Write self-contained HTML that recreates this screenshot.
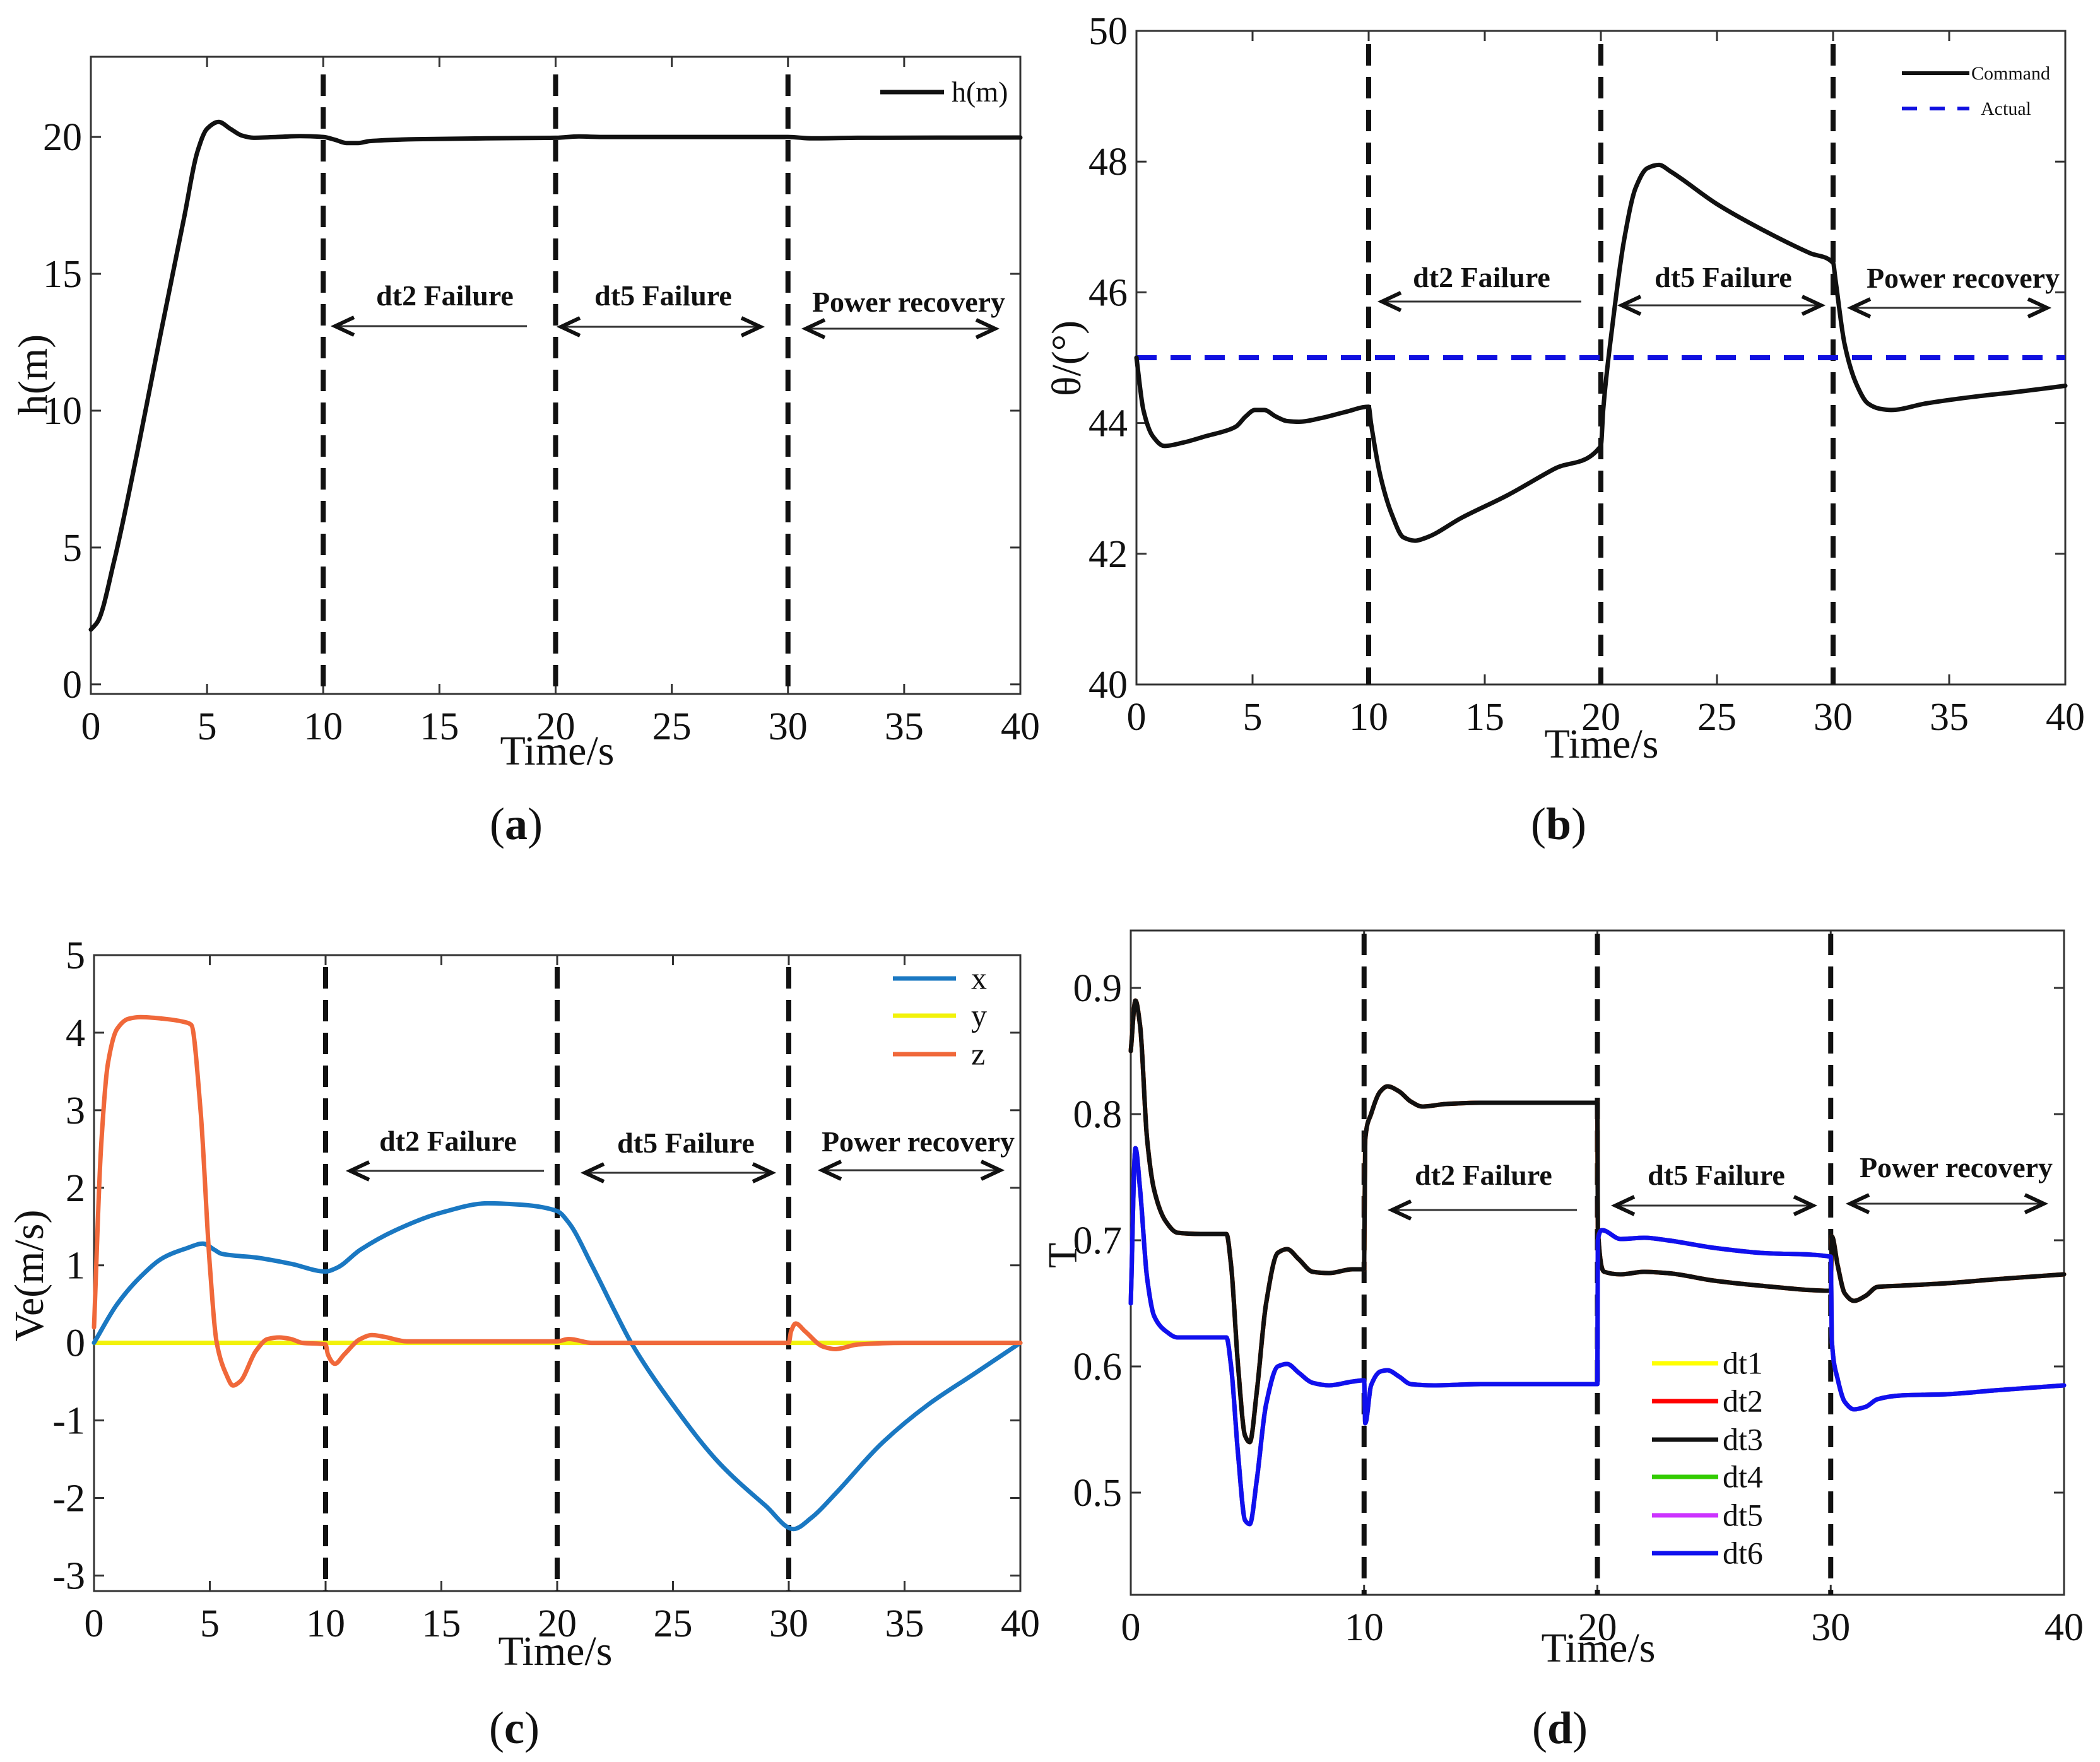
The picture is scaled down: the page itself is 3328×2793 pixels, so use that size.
<!DOCTYPE html>
<html><head><meta charset="utf-8"><style>
html,body{margin:0;padding:0;background:#fff}
svg{display:block}
text{font-family:"Liberation Serif",serif}
</style></head><body>
<svg id="root" width="3328" height="2793" viewBox="0 0 3328 2793" xmlns="http://www.w3.org/2000/svg"></svg>
<script>
// ---- Panel (a) data ----
const hTime = [0,0.3,1,2,3,4,4.6,5,5.5,6,6.5,7,8,9,10,10.5,11,11.5,12,14,17,20,21,22,30,31,33,40];
const hValues = [2,2.3,4.5,8.5,12.8,17,19.5,20.3,20.55,20.3,20.05,19.97,20.0,20.03,20.0,19.9,19.78,19.78,19.85,19.92,19.95,19.97,20.02,20.0,20.0,19.95,19.97,19.98];
const aYTicks = [0,5,10,15,20];
const aXTicks = [0,5,10,15,20,25,30,35,40];
// ---- Panel (b) data ----
const thetaTime = [0,0.3,0.7,1.2,2,3,4,4.3,4.7,5.1,5.5,6,6.5,7,8,9,10,10.1,10.5,11,11.5,12,12.5,14,16,18,20,20.1,20.5,21,21.5,22,22.5,23,25,27,29,30,30.1,30.5,31,31.5,32,32.5,34,36,38,40];
const thetaCommand = [45,44.2,43.8,43.65,43.7,43.8,43.9,43.95,44.1,44.2,44.2,44.1,44.03,44.02,44.08,44.17,44.25,44.0,43.2,42.6,42.25,42.2,42.25,42.55,42.9,43.3,43.65,44.2,45.5,46.8,47.6,47.9,47.95,47.85,47.35,46.95,46.6,46.45,46.2,45.2,44.6,44.3,44.22,44.2,44.3,44.4,44.48,44.57];
const thetaActual = [45,45];
const thetaActualTime = [0,40];
const bYTicks = [40,42,44,46,48,50];
const bXTicks = [0,5,10,15,20,25,30,35,40];
// ---- Panel (c) data ----
const vxTime = [0,1,2,3,4,4.7,5.2,5.5,7,8.5,10,10.5,11.5,13,15,17,18.5,20,20.5,21.5,22.5,23.2,25,27,29,30.2,31,32,34,36,38,40];
const vxValues = [0,0.5,0.85,1.1,1.22,1.28,1.2,1.15,1.1,1.02,0.92,0.97,1.2,1.45,1.68,1.8,1.78,1.7,1.55,1.0,0.4,0,-0.8,-1.55,-2.1,-2.4,-2.25,-1.95,-1.3,-0.8,-0.4,0];
const vyTime = [0,40];
const vyValues = [0,0];
const vzTime = [0,0.3,0.6,1,1.5,2,3,4,4.2,4.6,5,5.3,5.7,6,6.3,7,7.5,8,8.5,9,10,10.1,10.4,10.8,11.5,12,12.5,13.5,15,20,20.5,21.5,23,30,30.1,30.3,30.7,31.5,32,33,35,40];
const vzValues = [0.2,2.5,3.6,4.05,4.18,4.2,4.18,4.13,4.1,3,1,0,-0.4,-0.55,-0.5,-0.1,0.05,0.07,0.05,0,-0.02,-0.15,-0.27,-0.15,0.05,0.1,0.08,0.02,0.02,0.02,0.05,0,0,0,0.15,0.25,0.15,-0.05,-0.08,-0.02,0,0];
const cYTicks = [-3,-2,-1,0,1,2,3,4,5];
const cXTicks = [0,5,10,15,20,25,30,35,40];
// ---- Panel (d) data ----
const tTime3 = [0,0.2,0.4,0.7,1,1.5,2,3,4.1,4.3,4.6,4.9,5.1,5.4,5.8,6.3,6.7,7.2,7.8,8.5,9.5,10,10.05,10.3,10.7,11,11.5,12,12.5,13.5,15,20,20.02,20.3,21,22,23,25,27,30,30.05,30.3,30.6,31,31.5,32,33,35,37,40];
const tDt3 = [0.85,0.89,0.87,0.78,0.74,0.715,0.706,0.705,0.705,0.68,0.6,0.545,0.54,0.58,0.65,0.69,0.693,0.685,0.675,0.674,0.677,0.677,0.78,0.8,0.818,0.822,0.818,0.81,0.806,0.808,0.809,0.809,0.71,0.675,0.673,0.675,0.674,0.668,0.664,0.66,0.703,0.68,0.658,0.652,0.656,0.663,0.664,0.666,0.669,0.673];
const tTime6 = [0,0.2,0.4,0.7,1,1.5,2,4.1,4.3,4.6,4.9,5.1,5.4,5.8,6.3,6.7,7.2,7.8,8.5,9.5,10,10.05,10.3,10.7,11,11.5,12,13,15,20,20.02,20.2,21,22,23,25,27,30,30.05,30.3,30.6,31,31.5,32,33,35,37,40];
const tDt6 = [0.65,0.773,0.74,0.67,0.64,0.628,0.623,0.623,0.6,0.53,0.478,0.475,0.51,0.57,0.6,0.602,0.595,0.587,0.585,0.588,0.589,0.555,0.585,0.596,0.597,0.592,0.586,0.585,0.586,0.586,0.7,0.708,0.701,0.702,0.7,0.694,0.69,0.687,0.62,0.59,0.572,0.566,0.568,0.574,0.577,0.578,0.581,0.585];
const dYTicks = [0.5,0.6,0.7,0.8,0.9];
const dXTicks = [0,10,20,30,40];
const failureTimes = [10,20,30];

const NS = "http://www.w3.org/2000/svg";
const root = document.getElementById('root');
function mk(tag, attrs, parent, txt){
  const e = document.createElementNS(NS, tag);
  for (const k in attrs) e.setAttribute(k, attrs[k]);
  if (txt !== undefined) e.textContent = txt;
  (parent||root).appendChild(e);
  return e;
}
function axes(L,R,T,B,xmin,xmax,ymin,ymax){
  return {x:v=>L+(v-xmin)/(xmax-xmin)*(R-L), y:v=>B-(v-ymin)/(ymax-ymin)*(B-T), L,R,T,B};
}
function frame(g,ax,xt,yt,ydec,dashTop){
  const fr = mk('rect',{x:ax.L,y:ax.T,width:ax.R-ax.L,height:ax.B-ax.T,fill:'none',stroke:'#333','stroke-width':3},g);
  
  
  xt.forEach(v=>{
    const x=ax.x(v);
    mk('line',{x1:x,x2:x,y1:ax.B,y2:ax.B-16,stroke:'#333','stroke-width':3},g);
    mk('line',{x1:x,x2:x,y1:ax.T,y2:ax.T+16,stroke:'#333','stroke-width':3},g);
    const t=mk('text',{x:x,y:ax.B+72,'font-size':62,'text-anchor':'middle',fill:'#111'},g,String(v));
    
    
  });
  yt.forEach(v=>{
    const y=ax.y(v);
    mk('line',{x1:ax.L,x2:ax.L+16,y1:y,y2:y,stroke:'#333','stroke-width':3},g);
    mk('line',{x1:ax.R,x2:ax.R-16,y1:y,y2:y,stroke:'#333','stroke-width':3},g);
    const t=mk('text',{x:ax.L-14,y:y+21,'font-size':62,'text-anchor':'end',fill:'#111'},g,ydec?v.toFixed(ydec):String(v));
    
    
  });
  failureTimes.forEach(v=>{
    const l=mk('line',{x1:ax.x(v),x2:ax.x(v),y1:dashTop,y2:ax.B,stroke:'#111','stroke-width':8,'stroke-dasharray':'34 18'},g);
    
    
  });
}
// monotone cubic (Fritsch-Carlson) path through pixel points
function smoothPath(px,py){
  const n=px.length;
  if(n<3) return px.map((x,i)=>(i?'L':'M')+x.toFixed(1)+','+py[i].toFixed(1)).join(' ');
  const d=[],m=new Array(n);
  for(let i=0;i<n-1;i++){const h=px[i+1]-px[i]; d.push(h===0?0:(py[i+1]-py[i])/h);}
  m[0]=d[0]; m[n-1]=d[n-2];
  for(let i=1;i<n-1;i++){
    if(d[i-1]*d[i]<=0) m[i]=0;
    else { const h0=px[i]-px[i-1],h1=px[i+1]-px[i]; const w1=2*h1+h0,w2=h1+2*h0; m[i]=(w1+w2)/(w1/d[i-1]+w2/d[i]); }
  }
  let s='M'+px[0].toFixed(1)+','+py[0].toFixed(1);
  for(let i=0;i<n-1;i++){
    const h=(px[i+1]-px[i])/3;
    s+=` C${(px[i]+h).toFixed(1)},${(py[i]+m[i]*h).toFixed(1)} ${(px[i+1]-h).toFixed(1)},${(py[i+1]-m[i+1]*h).toFixed(1)} ${px[i+1].toFixed(1)},${py[i+1].toFixed(1)}`;
  }
  return s;
}
function series(g,ax,ts,vs,color,w,name,dash){
  const d = smoothPath(ts.map(ax.x), vs.map(ax.y));
  const p = mk('path',{d:d,fill:'none',stroke:color,'stroke-width':w,'stroke-linejoin':'round','stroke-linecap':'round'},g);
  if (dash) { p.setAttribute('stroke-dasharray',dash); p.setAttribute('stroke-linecap','butt'); }
  
  
}
function arrowHead(g,x,y,dir){
  const s=dir;
  mk('path',{d:`M${x-s*30},${y-14} L${x},${y} L${x-s*30},${y+14}`,fill:'none',stroke:'#111','stroke-width':6},g);
}
function annot(g,label,cx,ty,x1,x2,ay,both,fs){
  const t=mk('text',{x:cx,y:ty,'font-size':fs||46,'font-weight':'bold','text-anchor':'middle',fill:'#111'},g,label);
  
  
  const l=mk('line',{x1:x1,x2:x2,y1:ay,y2:ay,stroke:'#333','stroke-width':3},g);
  
  
  arrowHead(g,x1,ay,-1);
  if (both) arrowHead(g,x2,ay,1);
}
function titleTexts(g,xlabel,xlx,xly,ylabel,ylx,yly,cap,cx,cy){
  const a=mk('text',{x:xlx,y:xly,'font-size':66,'text-anchor':'middle',fill:'#111'},g,xlabel);
  
  
  const b=mk('text',{x:ylx,y:yly,'font-size':66,'text-anchor':'middle',fill:'#111',transform:`rotate(-90 ${ylx} ${yly})`},g,ylabel);
  
  
  const c=mk('text',{x:cx,y:cy,'font-size':72,'text-anchor':'middle',fill:'#111'},g);
  
  
  mk('tspan',{},c,'(');
  mk('tspan',{'font-weight':'bold'},c,cap);
  mk('tspan',{},c,')');
}
function legendEntry(g,x1,x2,y,color,label,tx,fs,dash,w){
  const gg=mk('g',{},g);
  
  
  const l=mk('line',{x1:x1,x2:x2,y1:y,y2:y,stroke:color,'stroke-width':w||7},gg);
  if (dash) l.setAttribute('stroke-dasharray',dash);
  mk('text',{x:tx,y:y+fs*0.33,'font-size':fs,fill:'#111'},gg,label);
}

// ===== Panel a =====
(function(){
  const g=mk('g',{});  
  const ax=axes(144,1617,90,1100,0,40,-0.35,22.93);
  frame(g,ax,aXTicks,aYTicks,0,118);
  series(g,ax,hTime,hValues,'#111',7,'h-line');
  legendEntry(g,1395,1496,146,'#111','h(m)',1508,46);
  annot(g,'dt2 Failure',705,484,531,835,517,false);
  annot(g,'dt5 Failure',1051,484,889,1205,518,true);
  annot(g,'Power recovery',1440,494,1277,1577,521,true);
  titleTexts(g,'Time/s',883,1212,'h(m)',74,594,'a',818,1330);
})();
// ===== Panel b =====
(function(){
  const g=mk('g',{});  
  const ax=axes(1801,3273,49,1085,0,40,40,50);
  frame(g,ax,bXTicks,bYTicks,0,70);
  series(g,ax,thetaActualTime,thetaActual,'#1010e0',8,'actual-line','32 22');
  series(g,ax,thetaTime,thetaCommand,'#111',7,'command-line');
  legendEntry(g,3014,3121,116,'#111','Command',3124,30,null,6);
  legendEntry(g,3014,3121,172,'#1010e0','Actual',3139,30,'24 20',6);
  annot(g,'dt2 Failure',2348,455,2190,2506,478,false);
  annot(g,'dt5 Failure',2731,455,2570,2886,484,true);
  annot(g,'Power recovery',3111,456,2934,3244,488,true);
  titleTexts(g,'Time/s',2538,1201,'θ/(°)',1712,568,'b',2470,1330);
})();
// ===== Panel c =====
(function(){
  const g=mk('g',{});  
  const ax=axes(149,1617,1514,2522,0,40,-3.2,5);
  frame(g,ax,cXTicks,cYTicks,0,1533);
  series(g,ax,vyTime,vyValues,'#f2f20a',7,'y-line');
  series(g,ax,vxTime,vxValues,'#1a78c2',7,'x-line');
  series(g,ax,vzTime,vzValues,'#f0683a',7,'z-line');
  legendEntry(g,1415,1515,1551,'#1a78c2','x',1539,50);
  legendEntry(g,1415,1515,1610,'#f2f20a','y',1539,50);
  legendEntry(g,1415,1515,1671,'#f0683a','z',1539,50);
  annot(g,'dt2 Failure',710,1824,555,862,1856,false);
  annot(g,'dt5 Failure',1087,1827,927,1223,1859,true);
  annot(g,'Power recovery',1455,1825,1303,1585,1855,true);
  titleTexts(g,'Time/s',880,2639,'Ve(m/s)',68,2022,'c',815,2763);
})();
// ===== Panel d =====
(function(){
  const g=mk('g',{});  
  const ax=axes(1792,3271,1475,2528,0,40,0.419,0.9455);
  frame(g,ax,dXTicks,dYTicks,1,1480);
  series(g,ax,tTime3,tDt3,'#ffff00',7,'dt1-line');
  series(g,ax,tTime3,tDt3,'#ff0000',7,'dt2-line');
  series(g,ax,tTime3,tDt3,'#111',7,'dt3-line');
  series(g,ax,tTime6,tDt6,'#33cc00',7,'dt4-line');
  series(g,ax,tTime6,tDt6,'#cc33ff',7,'dt5-line');
  series(g,ax,tTime6,tDt6,'#1010ee',7,'dt6-line');
  const cols=['#ffff00','#ff0000','#111','#33cc00','#cc33ff','#1010ee'];
  const names=['dt1','dt2','dt3','dt4','dt5','dt6'];
  const ys=[2161,2221,2282,2341,2402,2462];
  names.forEach((n,i)=>legendEntry(g,2618,2723,ys[i],cols[i],n,2730,50));
  annot(g,'dt2 Failure',2351,1878,2206,2499,1918,false);
  annot(g,'dt5 Failure',2720,1878,2560,2873,1911,true);
  annot(g,'Power recovery',3100,1866,2932,3239,1908,true);
  titleTexts(g,'Time/s',2533,2634,'T',1706,1990,'d',2472,2763);
})();
</script>
</body></html>
